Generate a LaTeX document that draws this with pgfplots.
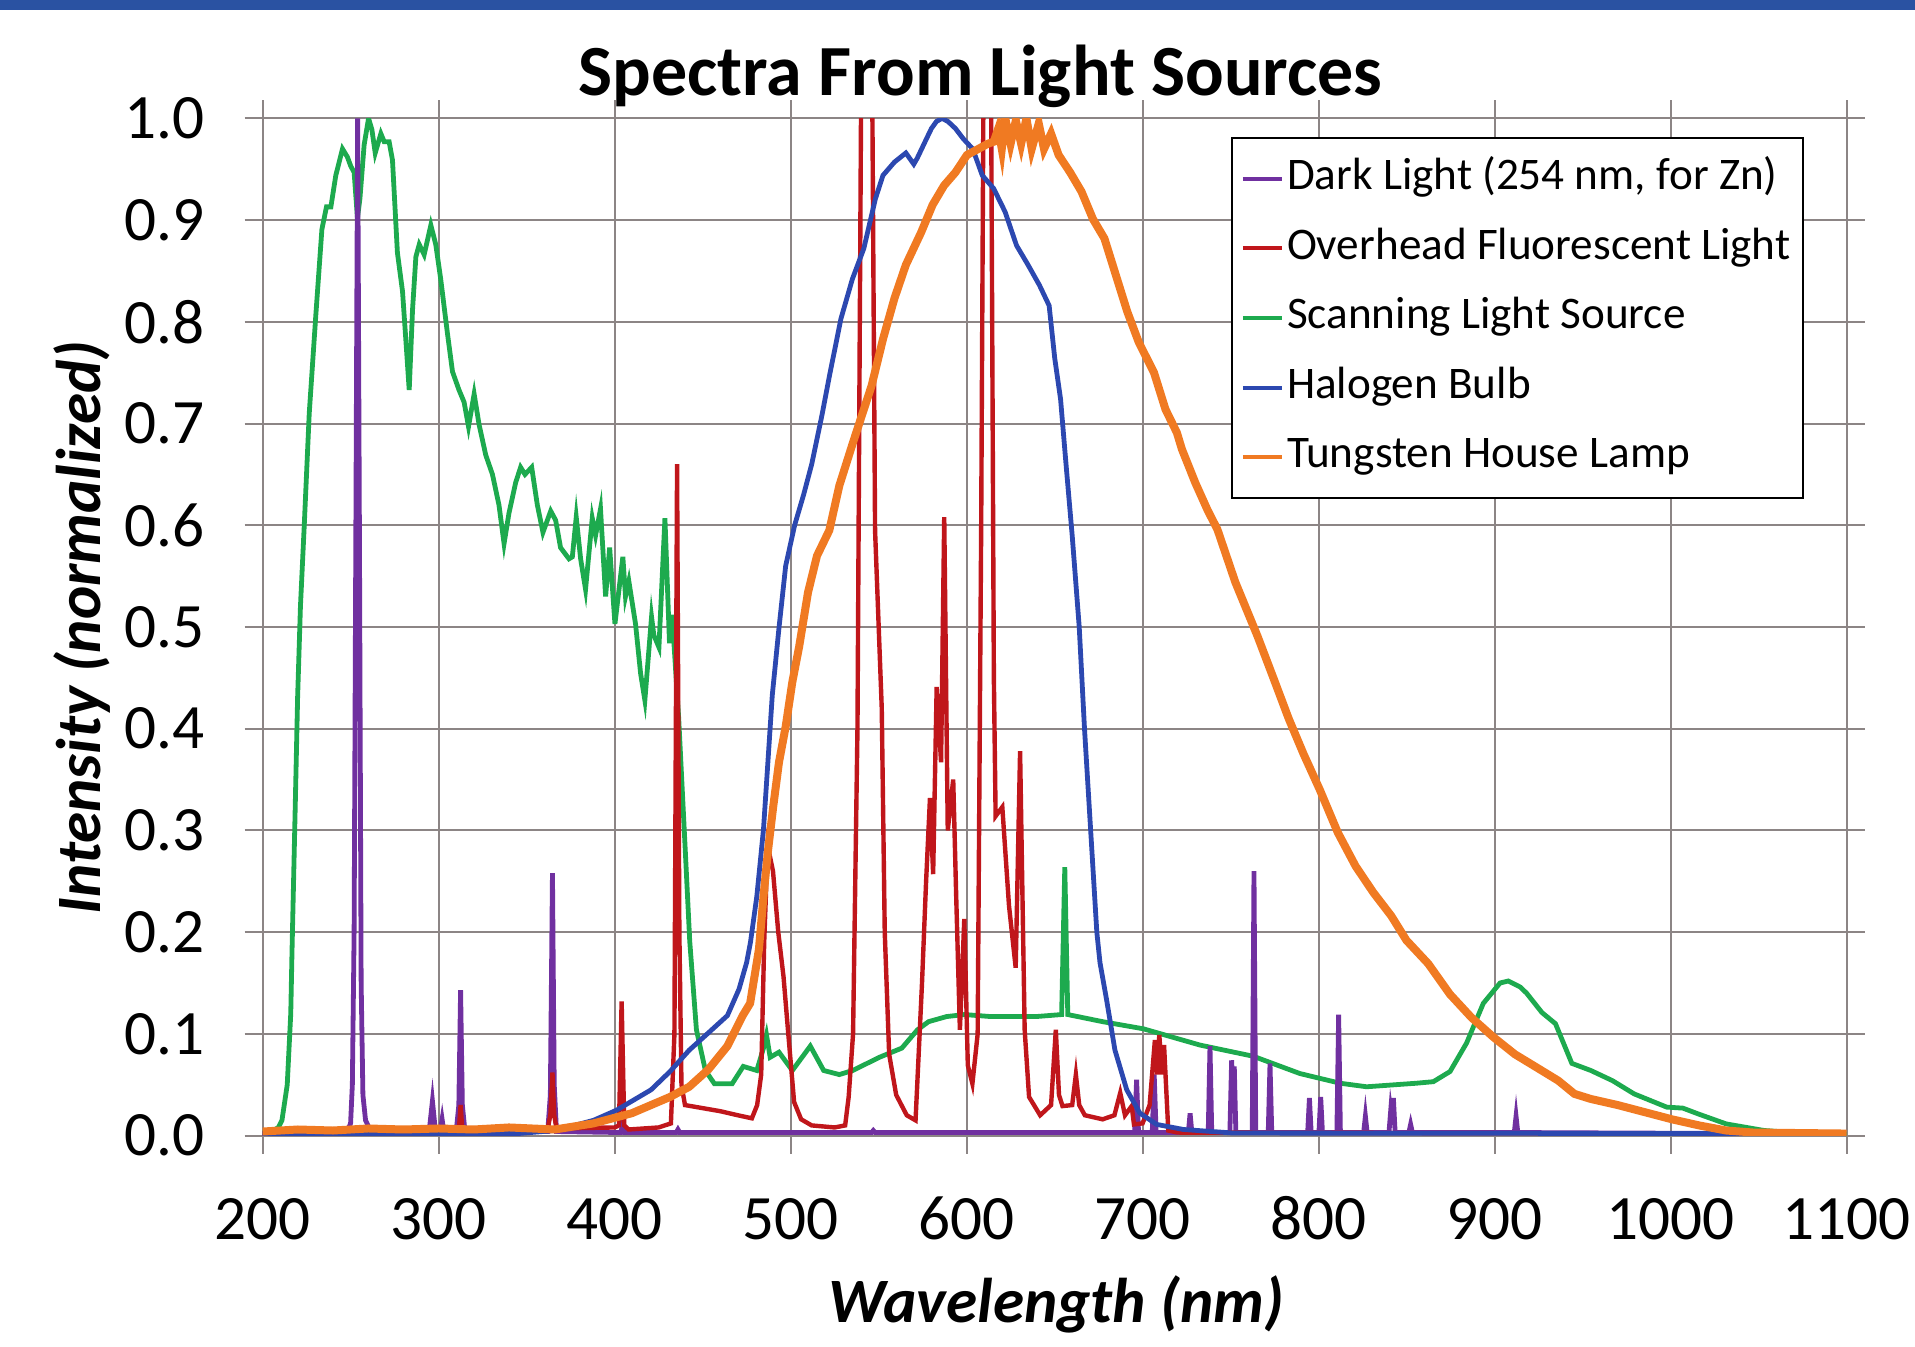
\documentclass[border=0pt]{standalone}
\usepackage{fontspec}
\setmainfont{Carlito}
\usepackage{pgfplots}
\pgfplotsset{compat=1.18}

\definecolor{cPurple}{HTML}{7030A0}
\definecolor{cRed}{HTML}{C0161B}
\definecolor{cGreen}{HTML}{1DAA4E}
\definecolor{cBlue}{HTML}{2C48B0}
\definecolor{cOrange}{HTML}{F07A22}
\definecolor{cGrid}{HTML}{8C8585}
\definecolor{cBand}{HTML}{2A52A2}

\begin{document}
\begin{tikzpicture}
\path[use as bounding box] (-65.65pt,-52.8pt) rectangle (413.1pt,283.9pt);
\fill[cBand] (-65.65pt,281.3pt) rectangle (413.1pt,283.9pt);

\begin{axis}[
  at={(0pt,0pt)}, anchor=south west,
  scale only axis, width=396pt, height=254.3pt,
  xmin=200, xmax=1100, ymin=0, ymax=1,
  xtick={200,300,...,1100},
  ytick={0,0.1,0.2,0.3,0.4,0.5,0.6,0.7,0.8,0.9,1.0},
  /pgf/number format/assume math mode=true,
  yticklabel style={/pgf/number format/fixed, /pgf/number format/fixed zerofill,
    /pgf/number format/precision=1, anchor=east, inner sep=0pt, xshift=-9.9pt,
    font=\fontsize{15.8}{17}\selectfont},
  xticklabel style={/pgf/number format/1000 sep={}, anchor=base, inner sep=0pt,
    yshift=-21.5pt, font=\fontsize{15.8}{17}\selectfont},
  grid=major,
  major grid style={draw=cGrid, line width=0.5pt},
  axis line style={draw=cGrid, line width=0.5pt},
  tick align=outside, major tick length=4.5pt,
  tick style={draw=cGrid, line width=0.5pt},
  legend style={at={(0.6114,0.9817)}, anchor=north west, draw=black,
    line width=0.5pt, inner xsep=2.2pt, inner ysep=1.5pt,
    font=\fontsize{11.3}{13}\selectfont,
    nodes={inner xsep=0.8pt, inner ysep=2.7pt, text height=8.7pt, text depth=3.3pt},
    row sep=0pt},
  legend cell align=left,
  legend image code/.code={\draw[#1] (0pt,0pt) -- (9.75pt,0pt);},
]

\addlegendimage{cPurple, line width=1pt}
\addlegendentry{Dark Light (254 nm, for Zn)}
\addlegendimage{cRed, line width=1pt}
\addlegendentry{Overhead Fluorescent Light}
\addlegendimage{cGreen, line width=1pt}
\addlegendentry{Scanning Light Source}
\addlegendimage{cBlue, line width=1pt}
\addlegendentry{Halogen Bulb}
\addlegendimage{cOrange, line width=1pt}
\addlegendentry{Tungsten House Lamp}

% Scanning light source
\addplot[cGreen, line width=1.2pt, forget plot] coordinates {
(200,0.003)(205,0.004)(209,0.008)(211,0.015)(214,0.05)(216,0.12)(216.7,0.18)
(218.5,0.32)(219.9,0.431)(221.5,0.52)(223.7,0.601)(226.5,0.71)(230.3,0.808)
(233.7,0.891)(236.3,0.913)(238.8,0.913)(241.6,0.944)(245.4,0.97)(248.2,0.962)
(250.1,0.953)(252,0.947)(253.9,0.902)(255.3,0.921)(257.7,0.974)(260.2,1.0)
(262.1,0.989)(264,0.966)(267.2,0.985)(269.1,0.977)(271.9,0.977)(273.8,0.959)
(276.6,0.868)(279.5,0.83)(281.4,0.782)(283.3,0.733)(285.2,0.812)(287.1,0.864)
(289,0.876)(291.8,0.866)(295.6,0.895)(298.4,0.876)(301.2,0.842)(305,0.789)
(307.9,0.751)(311.6,0.733)(314.5,0.721)(317,0.697)(320.2,0.729)(323,0.699)
(326.8,0.669)(330.6,0.65)(334.3,0.62)(337.2,0.582)(340,0.612)(343.8,0.642)
(346.6,0.657)(349.1,0.65)(352.9,0.657)(356.1,0.62)(359.3,0.593)(363.7,0.614)
(366.5,0.605)(369.3,0.578)(374.1,0.567)(376,0.569)(378.2,0.608)(380.7,0.567)
(383.5,0.537)(387.3,0.607)(389.2,0.59)(392,0.616)(394.9,0.53)(397.2,0.578)
(400.2,0.503)(404.7,0.569)(406.2,0.53)(408.1,0.545)(411.9,0.503)(414.8,0.454)
(417.2,0.428)(421,0.51)(422.3,0.492)(425.2,0.48)(428.6,0.607)(431.2,0.484)
(432.7,0.512)(434.6,0.46)(436.4,0.411)(440.2,0.279)(442.7,0.191)(446.5,0.104)
(451.6,0.064)(456.7,0.051)(466.8,0.051)(473.1,0.068)(477,0.066)(480.8,0.064)
(484.6,0.086)(486.3,0.099)(488.4,0.077)(493.4,0.082)(501,0.064)(511.2,0.088)
(518.8,0.064)(527.7,0.06)(535.3,0.064)(550.5,0.077)(563.2,0.086)(572.1,0.104)
(578.4,0.112)(588.6,0.117)(598.7,0.119)(613.9,0.117)(639.3,0.117)(654,0.119)
(655.8,0.264)(657.5,0.119)(677.3,0.112)(700.4,0.105)(732.6,0.089)(762.9,0.078)
(789.4,0.061)(812.2,0.0515)(827.3,0.048)(855.7,0.0515)(865.2,0.053)(874.7,0.063)
(884.1,0.091)(893.6,0.13)(903.1,0.150)(907.8,0.152)(914.6,0.146)(918.2,0.140)
(926.9,0.121)(934.6,0.11)(943.9,0.071)(954.7,0.064)(967,0.054)(979.3,0.041)
(997.8,0.028)(1007,0.027)(1016.2,0.021)(1031.6,0.0115)(1053.2,0.005)
(1077.8,0.002)(1100,0.001)
};

% Dark light
\addplot[cPurple, line width=1.2pt, forget plot] coordinates {
(200,0.002)(240,0.002)(248,0.004)(250,0.012)(251,0.05)(252,0.2)(253,0.6)(254,1.0)
(255,0.6)(256,0.15)(257,0.04)(258.5,0.015)(261,0.006)(265,0.003)(293,0.003)
(295,0.01)(296.5,0.034)(298,0.008)(301,0.005)(302,0.016)(303,0.004)(310,0.004)
(311.5,0.03)(312.5,0.143)(313.5,0.03)(315,0.004)(362,0.004)(363.5,0.04)
(364.7,0.258)(365.7,0.05)(367,0.004)(403.5,0.003)(404.7,0.012)(406,0.003)
(435,0.003)(436,0.006)(437,0.003)(546,0.003)(547,0.005)(548,0.003)
(695.5,0.003)(696.6,0.055)(697.7,0.003)(705.5,0.003)(706.6,0.06)(707.7,0.003)
(726,0.003)(727,0.022)(728,0.003)(737.3,0.003)(738.3,0.088)(739.3,0.003)
(749.6,0.003)(750.6,0.074)(751.4,0.04)(752.1,0.068)(753,0.003)(762.3,0.003)
(763.3,0.26)(764.3,0.003)(771.4,0.003)(772.4,0.071)(773.4,0.003)(793.8,0.003)
(794.8,0.037)(795.8,0.003)(800.2,0.003)(801.2,0.038)(802.2,0.003)(810.4,0.003)
(811.4,0.119)(812.4,0.003)(825.6,0.003)(826.6,0.019)(827.6,0.003)(840,0.003)
(841,0.025)(841.8,0.015)(842.5,0.037)(843.5,0.003)(851.3,0.003)(852.3,0.011)
(853.3,0.003)(911.2,0.003)(912.2,0.019)(913.2,0.003)(1045,0.002)
};

% Overhead fluorescent light
\addplot[cRed, line width=1.1pt, forget plot] coordinates {
(200,0.002)(250,0.003)(300,0.004)(311.5,0.005)(312.5,0.03)(313.5,0.005)
(340,0.006)(362,0.007)(363.5,0.02)(364.7,0.062)(365.7,0.02)(367,0.007)
(400,0.008)(402.5,0.01)(404,0.132)(405.5,0.01)(408,0.006)(425,0.008)
(432,0.012)(434,0.1)(435.5,0.66)(436.8,0.2)(438,0.05)(440,0.03)(450,0.027)
(460,0.024)(470,0.02)(478,0.017)(481,0.03)(483.3,0.06)(485,0.19)(487,0.285)
(490,0.26)(493,0.2)(496,0.156)(498.5,0.104)(502,0.033)(506,0.016)(512,0.01)
(525,0.008)(531,0.01)(533,0.038)(535.5,0.1)(538,0.4)(540,1.0)(543.5,2.0)
(546.5,1.0)(548,0.595)(551.8,0.42)(553.5,0.2)(556,0.08)(560,0.04)(566,0.02)
(571,0.015)(574.6,0.147)(577,0.25)(579.2,0.332)(581,0.257)(583,0.441)
(585.5,0.367)(587.3,0.608)(589.3,0.30)(592.4,0.35)(594.1,0.235)(596.2,0.104)
(598.7,0.213)(600.7,0.069)(603.3,0.051)(606.3,0.10)(608.3,0.6)(609.5,1.0)
(611.7,2.5)(614,1.0)(615.5,0.45)(616.5,0.314)(620.3,0.323)(624.1,0.226)
(627.9,0.165)(630.4,0.378)(633,0.104)(635.5,0.038)(641.8,0.02)(648,0.03)
(650.7,0.104)(652.5,0.04)(654.5,0.029)(660,0.03)(662.1,0.06)(664,0.03)
(667.2,0.02)(677.3,0.016)(684,0.02)(687.3,0.042)(690,0.02)(693.8,0.029)
(695.1,0.011)(700,0.012)(704,0.03)(707,0.094)(708.3,0.06)(709.5,0.099)
(711,0.06)(712.2,0.089)(714.6,0.005)(720,0.003)(1000,0.002)
};

% Halogen bulb
\addplot[cBlue, line width=1.2pt, forget plot] coordinates {
(200,0.002)(345,0.002)(366.3,0.005)(388,0.015)(401.1,0.025)(420.7,0.045)
(431.5,0.063)(442.4,0.084)(453.3,0.101)(464.1,0.118)(470.7,0.144)(475,0.17)
(477.2,0.19)(480.8,0.235)(484.6,0.301)(487.1,0.367)(489.6,0.433)(493.4,0.499)
(497.2,0.56)(502.3,0.60)(507.4,0.63)(512,0.66)(517.8,0.708)(522.1,0.747)
(528.6,0.803)(535.1,0.842)(541.6,0.872)(548.2,0.921)(552.5,0.944)(559,0.957)
(565.5,0.966)(570,0.955)(572,0.961)(576.4,0.977)(580,0.99)(582.9,0.997)
(586,1.0)(589.4,0.997)(593.7,0.99)(598.1,0.98)(603.5,0.97)(608.9,0.944)
(615.4,0.931)(621.9,0.908)(628.4,0.875)(634.9,0.856)(641.4,0.836)(646.9,0.816)
(650.1,0.764)(653.4,0.724)(656.6,0.658)(660,0.59)(664,0.5)(667,0.4)(670.5,0.3)
(674,0.2)(675.8,0.17)(679.6,0.133)(684.3,0.084)(691,0.045)(698.5,0.022)
(708,0.011)(723.2,0.006)(751.6,0.0025)(1050,0.002)
};

% Tungsten house lamp
\addplot[cOrange, line width=2pt, forget plot] coordinates {
(200,0.004)(220,0.006)(240,0.005)(260,0.007)(280,0.006)(300,0.007)(320,0.006)
(340,0.008)(366,0.006)(388,0.012)(409.8,0.022)(431.5,0.038)(442.4,0.048)
(453.3,0.065)(464.1,0.088)(472.8,0.118)(477,0.13)(482,0.183)(484.6,0.235)
(487.1,0.279)(490.1,0.323)(493.4,0.367)(497.2,0.402)(501,0.446)(504.9,0.481)
(509.9,0.534)(515,0.57)(522,0.595)(527.7,0.639)(535.2,0.68)(546,0.737)
(552.5,0.783)(559,0.823)(565.5,0.856)(574.2,0.888)(580.7,0.915)(587.2,0.934)
(593.7,0.947)(600.2,0.964)(606.7,0.97)(612,0.975)(615.4,0.977)(618,0.99)
(620,0.97)(622,1.0)(625,0.975)(628,0.998)(631,0.975)(634,1.0)(637,0.97)
(641,0.995)(644,0.97)(648,0.985)(652.3,0.964)(658.8,0.947)(665.3,0.928)
(671.8,0.901)(678.3,0.882)(684.8,0.846)(691.3,0.81)(697.8,0.78)(706.5,0.75)
(713,0.714)(719.5,0.691)(722.3,0.675)(729.9,0.642)(736.9,0.615)(742.5,0.596)
(752.7,0.544)(765.3,0.491)(775.4,0.445)(783,0.41)(791.5,0.375)(800.7,0.34)
(810.9,0.298)(821,0.265)(831.1,0.239)(841.3,0.216)(849.9,0.192)(862.3,0.169)
(874.6,0.139)(886.9,0.116)(899.2,0.097)(911.5,0.08)(923.9,0.067)(936.2,0.054)
(945.4,0.041)(954.7,0.036)(970,0.03)(985.4,0.023)(1000.8,0.016)(1016.2,0.01)
(1031.6,0.005)(1047,0.003)(1100,0.002)
};
\end{axis}

\node[anchor=base, font=\bfseries\fontsize{18}{20}\selectfont] at (179.5pt,260.1pt)
  {Spectra From Light Sources};
\node[anchor=base, font=\bfseries\itshape\fontsize{15.8}{17}\selectfont] at (198.4pt,-46.8pt)
  {Wavelength (nm)};
\node[anchor=base, rotate=90, font=\bfseries\itshape\fontsize{15.8}{17}\selectfont] at (-40.5pt,127pt)
  {Intensity (normalized)};
\end{tikzpicture}
\end{document}
